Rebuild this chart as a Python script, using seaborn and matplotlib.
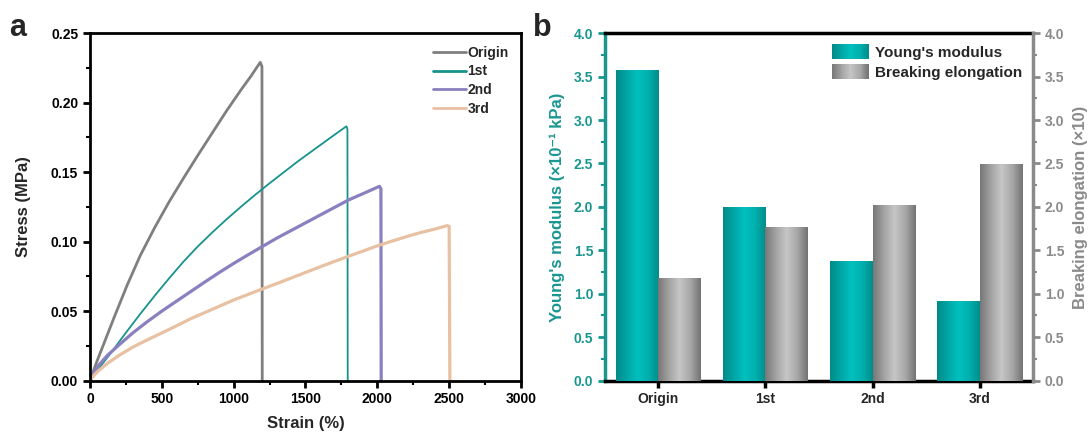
import numpy as np
import pandas as pd
import matplotlib
matplotlib.use("Agg")
import matplotlib.pyplot as plt
import seaborn as sns
from matplotlib.colors import LinearSegmentedColormap
from matplotlib.patches import Rectangle
from matplotlib.legend_handler import HandlerBase
from matplotlib.ticker import MultipleLocator

# ======================
# Data
# ======================
# panel a: stress-strain curves
ORIGIN_STRAIN = [0, 20, 50, 100, 170, 260, 350, 450, 550, 650, 750, 850, 950, 1050, 1120, 1185, 1197, 1199]
ORIGIN_STRESS = [0, 0.0058, 0.0143, 0.0275, 0.046, 0.069, 0.090, 0.110, 0.1285, 0.1455, 0.162, 0.178,
                 0.194, 0.209, 0.219, 0.229, 0.226, 0]

FIRST_STRAIN = [0, 40, 80, 150, 250, 350, 450, 550, 650, 750, 850, 950, 1050, 1150, 1250, 1350, 1450,
                1550, 1650, 1785, 1792, 1794]
FIRST_STRESS = [0, 0.0058, 0.0112, 0.0205, 0.0345, 0.048, 0.061, 0.0735, 0.0855, 0.0965, 0.1065, 0.116,
                0.125, 0.1337, 0.142, 0.150, 0.158, 0.1655, 0.173, 0.183, 0.181, 0]

SECOND_STRAIN = [0, 25, 60, 120, 200, 300, 400, 500, 600, 700, 800, 900, 1000, 1100, 1200, 1300, 1400,
                 1500, 1600, 1700, 1800, 1900, 2015, 2025, 2027]
SECOND_STRESS = [0, 0.0055, 0.011, 0.018, 0.0255, 0.0345, 0.0425, 0.050, 0.057, 0.064, 0.071, 0.0778,
                 0.0843, 0.0905, 0.0965, 0.1025, 0.108, 0.1135, 0.119, 0.1245, 0.130, 0.1345, 0.1398,
                 0.138, 0]

THIRD_STRAIN = [0, 25, 60, 120, 200, 300, 400, 500, 600, 700, 800, 900, 1000, 1100, 1200, 1300, 1400,
                1500, 1600, 1700, 1800, 1900, 2000, 2100, 2200, 2300, 2400, 2485, 2500, 2505]
THIRD_STRESS = [0, 0.0035, 0.0072, 0.0123, 0.018, 0.0242, 0.0294, 0.0343, 0.0393, 0.0445, 0.049, 0.0535,
                0.058, 0.062, 0.066, 0.0698, 0.0738, 0.0778, 0.0818, 0.0857, 0.0895, 0.0932, 0.097,
                0.1003, 0.1035, 0.1065, 0.109, 0.1115, 0.111, 0]

CURVE_LABELS = ["Origin", "1st", "2nd", "3rd"]

# panel b: bars
SAMPLES = ["Origin", "1st", "2nd", "3rd"]
YOUNGS_MODULUS = [3.57, 2.00, 1.37, 0.91]
BREAKING_ELONGATION = [1.18, 1.77, 2.02, 2.49]

# ======================
# Style
# ======================
CURVE_COLORS = ["#7f7f7f", "#16938c", "#8a80bf", "#e8c0a2"]
CURVE_WIDTHS = [2.0, 1.3, 2.3, 2.3]
TEAL_TXT = "#1a9690"
GRAY_TXT = "#8a8a8a"
TEAL_MAP = LinearSegmentedColormap.from_list("teal", ["#008a88", "#00a6a5", "#00c0be", "#00b0ae", "#008d8b"])
GRAY_MAP = LinearSegmentedColormap.from_list("gray", ["#777777", "#a2a2a2", "#c6c6c6", "#a8a8a8", "#727272"])

sns.set_style("ticks")
plt.rcParams['font.family'] = ['Liberation Sans', 'DejaVu Sans']
plt.rcParams['font.weight'] = 'bold'
plt.rcParams['axes.labelweight'] = 'bold'


class GradientHandler(HandlerBase):
    def __init__(self, cmap):
        super().__init__()
        self.cmap = cmap

    def create_artists(self, legend, orig_handle, xdescent, ydescent, width, height, fontsize, trans):
        n = 40
        arts = []
        for i in range(n):
            r = Rectangle((-xdescent + i * width / n, -ydescent), width / n * 1.1, height,
                          facecolor=self.cmap((i + 0.5) / n), edgecolor='none', transform=trans)
            arts.append(r)
        return arts


def style_ticks(ax, which_axis, color):
    ax.tick_params(axis=which_axis, which='major', direction='out', length=5, width=2,
                   color=color, labelcolor=color, labelsize=10)
    ax.tick_params(axis=which_axis, which='minor', direction='out', length=3, width=1.5, color=color)


fig = plt.figure(figsize=(10.92, 4.36), dpi=100)
ax_a = fig.add_axes([0.0824, 0.127, 0.3947, 0.797])
ax_b = fig.add_axes([0.554, 0.127, 0.392, 0.797])

# ======================
# Panel a
# ======================
curves = [(ORIGIN_STRAIN, ORIGIN_STRESS), (FIRST_STRAIN, FIRST_STRESS),
          (SECOND_STRAIN, SECOND_STRESS), (THIRD_STRAIN, THIRD_STRESS)]
for (sx, sy), lab, col, lw in zip(curves, CURVE_LABELS, CURVE_COLORS, CURVE_WIDTHS):
    sns.lineplot(x=sx, y=sy, ax=ax_a, color=col, lw=lw, sort=False, estimator=None, label=lab)

ax_a.set_xlim(0, 3000)
ax_a.set_ylim(0, 0.25)
ax_a.xaxis.set_major_locator(MultipleLocator(500))
ax_a.xaxis.set_minor_locator(MultipleLocator(250))
ax_a.yaxis.set_major_locator(MultipleLocator(0.05))
ax_a.yaxis.set_minor_locator(MultipleLocator(0.025))
ax_a.set_yticklabels([f"{v:.2f}" for v in ax_a.get_yticks()])
for s in ax_a.spines.values():
    s.set_linewidth(2)
    s.set_color("black")
style_ticks(ax_a, 'x', 'black')
style_ticks(ax_a, 'y', 'black')
ax_a.set_xlabel("Strain (%)", fontsize=12, labelpad=7)
ax_a.set_ylabel("Stress (MPa)", fontsize=12, labelpad=14)
leg = ax_a.legend(loc="upper right", frameon=False, fontsize=10, handlelength=2.4,
                  handletextpad=0.1, labelspacing=0.35, borderaxespad=0.5)
for line in leg.get_lines():
    line.set_linewidth(2)

# ======================
# Panel b
# ======================
bar_df = pd.DataFrame({
    "sample": SAMPLES * 2,
    "value": YOUNGS_MODULUS + BREAKING_ELONGATION,
    "metric": ["Young's modulus"] * len(SAMPLES) + ["Breaking elongation"] * len(SAMPLES),
})
sns.barplot(data=bar_df, x="sample", y="value", hue="metric", order=SAMPLES,
            palette=["#00aaa8", "#a0a0a0"], width=0.8, ax=ax_b, legend=False, zorder=2)

# cylinder-like gradient fill on each bar
grad = np.linspace(0, 1, 256).reshape(1, -1)
for cont, cmap in zip(ax_b.containers, [TEAL_MAP, GRAY_MAP]):
    for bar in cont:
        x0, y0 = bar.get_x(), bar.get_y()
        w, h = bar.get_width(), bar.get_height()
        ax_b.imshow(grad, cmap=cmap, extent=(x0, x0 + w, y0, y0 + h), aspect='auto', zorder=3)
        bar.set_facecolor('none')
        bar.set_edgecolor('none')

ax_b.set_xlim(-0.5, 3.5)
ax_b.set_ylim(0, 4)
ax_b.yaxis.set_major_locator(MultipleLocator(0.5))
ax_b.yaxis.set_minor_locator(MultipleLocator(0.25))
ax_b.set_xlabel("")
ax_b.set_ylabel("Young's modulus (×10⁻¹ kPa)", fontsize=12, color=TEAL_TXT, labelpad=6)
ax_b.tick_params(axis='x', which='major', direction='out', length=5, width=2.5, labelsize=10, color='black')
style_ticks(ax_b, 'y', TEAL_TXT)
ax_b.spines['left'].set_color(TEAL_TXT)
ax_b.spines['left'].set_linewidth(2.5)
ax_b.spines['right'].set_visible(False)
ax_b.spines['top'].set_linewidth(2.5)
ax_b.spines['bottom'].set_linewidth(2.5)
ax_b.spines['top'].set_color('black')
ax_b.spines['bottom'].set_color('black')

ax_r = ax_b.twinx()
ax_r.set_ylim(0, 4)
ax_r.yaxis.set_major_locator(MultipleLocator(0.5))
ax_r.yaxis.set_minor_locator(MultipleLocator(0.25))
style_ticks(ax_r, 'y', GRAY_TXT)
ax_r.spines['right'].set_color(GRAY_TXT)
ax_r.spines['right'].set_linewidth(2.5)
for side in ['left', 'top', 'bottom']:
    ax_r.spines[side].set_visible(False)
ax_r.set_ylabel("Breaking elongation (×10)", fontsize=12, color=GRAY_TXT, labelpad=6)

h1 = Rectangle((0, 0), 1, 1)
h2 = Rectangle((0, 0), 1, 1)
ax_r.legend([h1, h2], ["Young's modulus", "Breaking elongation"], loc="upper right",
            frameon=False, fontsize=11, handlelength=2.4, handleheight=1.2, handletextpad=0.4,
            labelspacing=0.25, borderaxespad=0.3,
            handler_map={h1: GradientHandler(TEAL_MAP), h2: GradientHandler(GRAY_MAP)})

# panel letters
fig.text(0.008, 0.935, "a", fontsize=22, fontweight='bold', va='center')
fig.text(0.488, 0.935, "b", fontsize=22, fontweight='bold', va='center')

fig.savefig("out.png", dpi=100)
